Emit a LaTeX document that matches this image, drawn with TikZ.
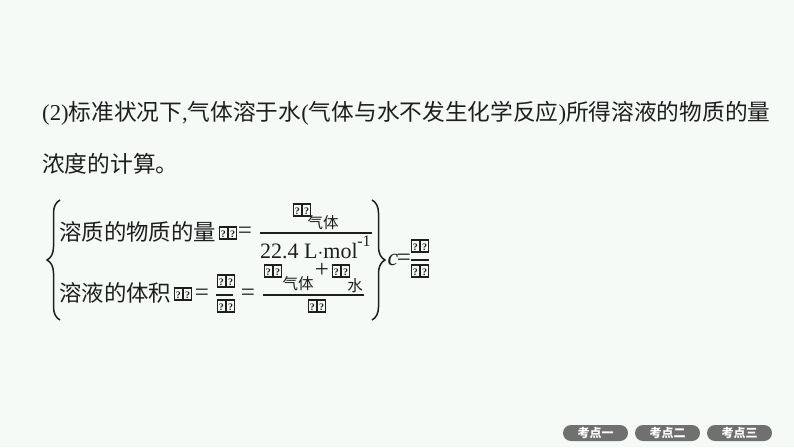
\documentclass[tikz,border=0pt]{standalone}
\usepackage{fontspec}
\setmainfont{Liberation Serif}
\newfontfamily\cjk{Noto Sans CJK SC}
\usetikzlibrary{decorations.pathreplacing}
\definecolor{paper}{RGB}{245,250,247}
\definecolor{tabgray}{RGB}{112,112,112}
\definecolor{ink}{RGB}{30,30,30}
\newcommand{\tofu}{{\setlength{\fboxsep}{0.4pt}\setlength{\fboxrule}{1.2pt}\fbox{\rule{0pt}{10pt}\makebox[6pt]{\bfseries\fontsize{10pt}{10pt}\selectfont ?}}}}
\tikzset{
 body/.style={anchor=west,inner sep=0pt,text=ink,font=\fontsize{22.7pt}{24pt}\selectfont},
 latin/.style={inner sep=0pt,text=ink,font=\fontsize{22pt}{24pt}\selectfont},
 sign/.style={inner sep=0pt,text=ink,font=\fontsize{25pt}{26pt}\selectfont},
 small/.style={inner sep=0pt,text=ink,font=\cjk\fontsize{15.5pt}{18pt}\selectfont},
 mark box/.style={inner sep=0pt,text=ink},
 fracbar/.style={line width=1.3pt,draw=ink},
 bigbrace/.style={decorate,decoration={brace,amplitude=13pt},line width=1.5pt,draw=ink},
 tab/.style={shape=rectangle,rounded corners=8pt,fill=tabgray,text=white,minimum width=65pt,minimum height=16pt,inner sep=0pt,font=\cjk\bfseries\fontsize{12pt}{13pt}\selectfont}
}
\begin{document}
\begin{tikzpicture}[x=1pt,y=-1pt]
 \fill[paper] (0,0) rectangle (794,447);
 \useasboundingbox (0,0) rectangle (794,447);

 \node[body] (LINEA) at (42,113) {(2){\cjk 标准状况下},{\cjk 气体溶于水}({\cjk 气体与水不发生化学反应}){\cjk 所得溶液的物质的量}};
 \node[body] (LINEB) at (42,164) {\cjk 浓度的计算。};

 % upper row
 \node[body,font=\fontsize{22.4pt}{24pt}\selectfont] (AMOUNT) at (59,232) {\cjk 溶质的物质的量};
 \node[mark box] (N1) at (228,233) {\tofu\tofu};
 \node[sign] (EQA) at (245,233) {=};
 \node[mark box] (V1) at (302,210) {\tofu\tofu};
 \node[small] (GASA) at (323,223) {气体};
 \node[latin,anchor=west] (MOLAR) at (260,251) {22.4 L$\cdot$mol};
 \node[inner sep=0pt,text=ink,font=\fontsize{16pt}{18pt}\selectfont] (EXPA) at (364,241) {-1};
 \draw[fracbar] (260,233) -- (372,233);

 % lower row
 \node[body,font=\fontsize{22.4pt}{24pt}\selectfont] (VOLUME) at (59,293) {\cjk 溶液的体积};
 \node[mark box] (V2) at (183,294) {\tofu\tofu};
 \node[sign] (EQB) at (202,295) {=};
 \node[mark box] (M1) at (226,281) {\tofu\tofu};
 \node[mark box] (RHO1) at (226,306) {\tofu\tofu};
 \draw[fracbar] (216,295) -- (233,295);
 \node[sign] (EQC) at (248,295) {=};
 \node[mark box] (M2) at (273,271) {\tofu\tofu};
 \node[small] (GASB) at (298,284) {气体};
 \node[sign] (PLUS) at (322,270) {+};
 \node[mark box] (M3) at (341,271) {\tofu\tofu};
 \node[small] (WATER) at (355,286) {水};
 \node[mark box] (RHO2) at (317,306) {\tofu\tofu};
 \draw[fracbar] (263,295) -- (364,295);

 % braces
 \coordinate (LB) at (60,320);
 \coordinate (LT) at (60,200);
 \coordinate (RT) at (372,200);
 \coordinate (RB) at (372,320);
 \draw[bigbrace] (LB) -- (LT);
 \draw[bigbrace] (RT) -- (RB);

 % result
 \node[latin,font=\itshape\fontsize{24pt}{26pt}\selectfont] (CONC) at (393,260) {c};
 \node[sign] (EQD) at (404,260) {=};
 \node[mark box] (N2) at (420,246) {\tofu\tofu};
 \node[mark box] (V3) at (420,271) {\tofu\tofu};
 \draw[fracbar] (411,260) -- (429,260);

 % tabs
 \node[tab] (TABA) at (595.5,433) {考点一};
 \node[tab] (TABB) at (667.5,433) {考点二};
 \node[tab] (TABC) at (739.5,433) {考点三};
\end{tikzpicture}
\end{document}
